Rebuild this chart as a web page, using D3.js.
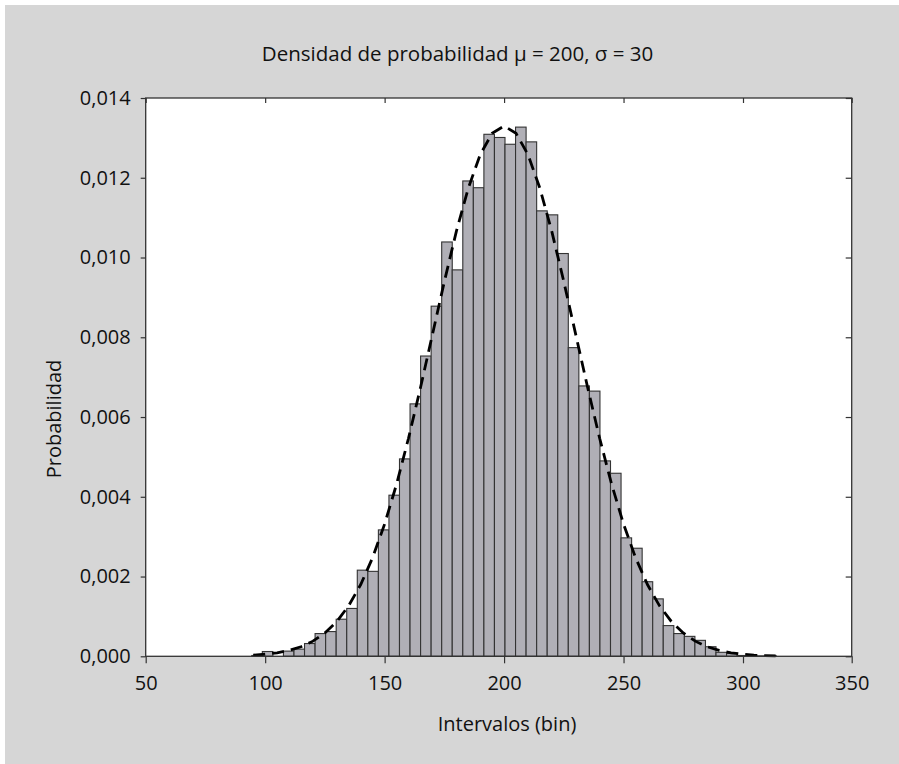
<!DOCTYPE html>
<html>
<head>
<meta charset="utf-8">
<script src="https://cdn.jsdelivr.net/npm/d3@7"></script>
<style>
  html, body { margin: 0; padding: 0; background: #ffffff; }
  svg { display: block; }
  text { font-family: "Open Sans", "Noto Sans", sans-serif; fill: #111; }
</style>
</head>
<body>
<svg id="chart" width="899" height="764"></svg>
<script>
// ---- data ----
const titleText = "Densidad de probabilidad \u03bc = 200, \u03c3 = 30";
const xLabel = "Intervalos (bin)";
const yLabel = "Probabilidad";
const xTicks = [50, 100, 150, 200, 250, 300, 350];
const yTicks = [0, 0.002, 0.004, 0.006, 0.008, 0.010, 0.012, 0.014];
const binStart = 94.4;
const binWidth = 4.416;
const binProbabilities = [
  0.00002, 0.00012, 0.0, 0.00013, 0.00018, 0.00032, 0.00057, 0.00062, 0.00093, 0.0012,
  0.00216, 0.00213, 0.00317, 0.00404, 0.00495, 0.00633, 0.00753, 0.00878, 0.01039, 0.00969,
  0.01192, 0.01175, 0.01309, 0.01301, 0.01284, 0.01327, 0.0129, 0.01117, 0.01107, 0.0101,
  0.00774, 0.00678, 0.00665, 0.0049, 0.00459, 0.00297, 0.00271, 0.00187, 0.00144, 0.00077,
  0.00057, 0.0005, 0.0004, 0.00024, 0.0001, 0.00007, 0.00002, 0.00003, 0.00001, 0.00002
];
const curveX = [95,100,105,110,115,120,125,130,135,140,145,150,155,160,165,170,175,180,185,190,195,200,
                205,210,215,220,225,230,235,240,245,250,255,260,265,270,275,280,285,290,295,300,305,310,315];
const curveY = [0.000029,0.000051,0.000088,0.000148,0.00024,0.00038,0.000584,0.000874,0.001272,0.0018,
                0.002477,0.003316,0.004317,0.005467,0.006733,0.008066,0.009397,0.010648,0.011736,0.01258,
                0.013115,0.013298,0.013115,0.01258,0.011736,0.010648,0.009397,0.008066,0.006733,0.005467,
                0.004317,0.003316,0.002477,0.0018,0.001272,0.000874,0.000584,0.00038,0.00024,0.000148,
                0.000088,0.000051,0.000029,0.000016,0.0000086];

// ---- layout ----
const svg = d3.select("#chart");
const W = 899, H = 764;
const plot = { left: 145.7, right: 851.7, top: 98, bottom: 656.3 };

svg.append("rect").attr("x", 5).attr("y", 5).attr("width", W - 5).attr("height", H - 5)
   .attr("fill", "#d6d6d6");

const x = d3.scaleLinear().domain([50, 300, 350]).range([plot.left, 743, plot.right]);
const y = d3.scaleLinear().domain([0, 0.014]).range([plot.bottom, plot.top]);

svg.append("rect").attr("x", plot.left).attr("y", plot.top)
   .attr("width", plot.right - plot.left).attr("height", plot.bottom - plot.top)
   .attr("fill", "#ffffff");

// bars
const bins = binProbabilities.map((p, i) => ({ x0: binStart + i * binWidth, x1: binStart + (i + 1) * binWidth, p }));
svg.append("g").selectAll("rect").data(bins.filter(d => d.p > 0)).join("rect")
  .attr("x", d => x(d.x0))
  .attr("width", d => x(d.x1) - x(d.x0))
  .attr("y", d => y(d.p))
  .attr("height", d => y(0) - y(d.p))
  .attr("fill", "#b0afb6")
  .attr("stroke", "#333")
  .attr("stroke-width", 1.1);

// dashed density curve
const line = d3.line().x((d, i) => x(curveX[i])).y(d => y(d));
svg.append("path").datum(curveY).attr("d", line)
  .attr("fill", "none").attr("stroke", "#000").attr("stroke-width", 2.8)
  .attr("stroke-dasharray", "12,7");

// axes
const loc = d3.formatLocale({ decimal: ",", thousands: ".", grouping: [3], currency: ["", "€"] });
const yFmt = loc.format(".3f");

const gx = svg.append("g").attr("transform", `translate(0,${plot.bottom})`)
  .call(d3.axisBottom(x).tickValues(xTicks).tickSizeInner(7).tickSizeOuter(0).tickPadding(13).tickFormat(d3.format("d")));
const gy = svg.append("g").attr("transform", `translate(${plot.left},0)`)
  .call(d3.axisLeft(y).tickValues(yTicks).tickSizeInner(5).tickSizeOuter(0).tickPadding(10).tickFormat(yFmt));
const gt = svg.append("g").attr("transform", `translate(0,${plot.top})`)
  .call(d3.axisTop(x).tickValues(xTicks).tickSizeInner(-5).tickSizeOuter(0).tickFormat(""));
const gr = svg.append("g").attr("transform", `translate(${plot.right},0)`)
  .call(d3.axisRight(y).tickValues(yTicks).tickSizeInner(-6).tickSizeOuter(0).tickFormat(""));

[gx, gy, gt, gr].forEach(g => {
  g.select(".domain").remove();
  g.selectAll("line").attr("stroke", "#333").attr("stroke-width", 1.2);
  g.selectAll("text").style("font-family", '"Open Sans", sans-serif').style("font-size", "20px").attr("fill", "#111");
});
gx.selectAll("text").attr("dy", "0.71em");

// frame
svg.append("rect").attr("x", plot.left).attr("y", plot.top)
   .attr("width", plot.right - plot.left).attr("height", plot.bottom - plot.top)
   .attr("fill", "none").attr("stroke", "#333").attr("stroke-width", 1.3);

// titles
svg.append("text").attr("x", 457.5).attr("y", 61).attr("text-anchor", "middle")
   .style("font-size", "20.5px").text(titleText);
svg.append("text").attr("x", 507).attr("y", 731).attr("text-anchor", "middle")
   .style("font-size", "20px").text(xLabel);
svg.append("text").attr("transform", "translate(61,419) rotate(-90)").attr("text-anchor", "middle")
   .style("font-size", "20px").text(yLabel);
</script>
</body>
</html>
